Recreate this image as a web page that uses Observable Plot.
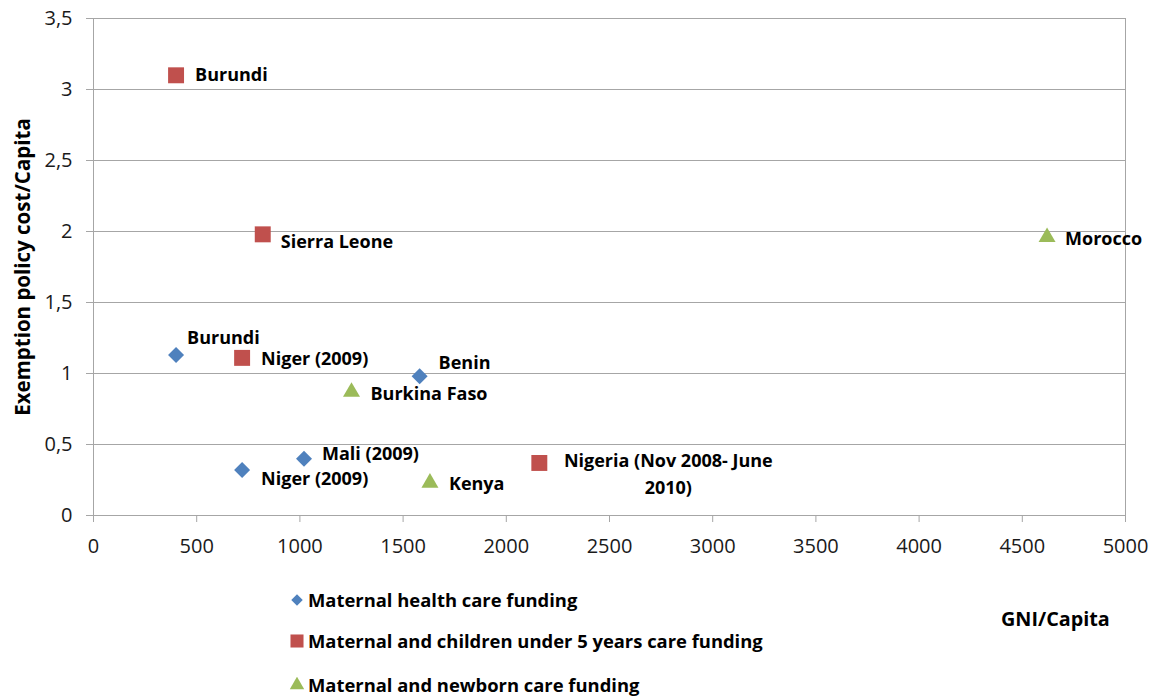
<!DOCTYPE html>
<html><head><meta charset="utf-8">
<script src="https://cdn.jsdelivr.net/npm/d3@7"></script>
<script src="https://cdn.jsdelivr.net/npm/@observablehq/plot@0.6"></script>
<style>
body{margin:0;background:#fff;font-family:"Open Sans",sans-serif;}
#wrap{position:relative;width:1155px;height:696px;overflow:hidden;background:#fff;}
#wrap svg.plot{position:absolute;left:0;top:0;}
.leg{position:absolute;left:289px;font-weight:bold;font-size:18.4px;color:#000;white-space:nowrap;line-height:20px;height:20px;display:flex;align-items:center;}
.leg svg{margin-right:3px;}
.xlab{position:absolute;left:1001px;top:606px;font-weight:bold;font-size:19.8px;line-height:26px;color:#000;}
</style></head><body><div id="wrap"></div><script>
// ---- data ----
const seriesNames = ["Maternal health care funding","Maternal and children under 5 years care funding","Maternal and newborn care funding"];
const seriesColors = ["#4F81BD","#C0504D","#9BBB59"];
const seriesSymbols = ["diamond2","square","triangle"];

const healthCountries = ["Burundi","Benin","Mali (2009)","Niger (2009)"];
const healthGNI = [400,1580,1020,720];
const healthCost = [1.13,0.98,0.40,0.32];

const under5Countries = ["Burundi","Sierra Leone","Niger (2009)","Nigeria (Nov 2008- June\n2010)"];
const under5GNI = [400,820,720,2160];
const under5Cost = [3.10,1.98,1.11,0.37];

const newbornCountries = ["Burkina Faso","Kenya","Morocco"];
const newbornGNI = [1250,1630,4620];
const newbornCost = [0.87,0.23,1.96];

const xTicks = [0,500,1000,1500,2000,2500,3000,3500,4000,4500,5000];
const yTicks = [0,0.5,1,1.5,2,2.5,3,3.5];
const xLabel = "GNI/Capita";
const yLabel = "Exemption policy cost/Capita";

// ---- layout (label offsets in px, marker radii) ----
const labelOffsets = [
  [[11,-20,"start"],[19,-16,"start"],[18,-7,"start"],[19,6,"start"]],
  [[19,-3,"start"],[18,5,"start"],[19,-2,"start"],[129,9,"middle"]],
  [[19,-1,"start"],[19,-1,"start"],[18,-1,"start"]]
];
const markerR = [7.2, 9.0, 6.3];

const seriesData = [
  healthCountries.map((c,i)=>({country:c, gni:healthGNI[i], cost:healthCost[i]})),
  under5Countries.map((c,i)=>({country:c, gni:under5GNI[i], cost:under5Cost[i]})),
  newbornCountries.map((c,i)=>({country:c, gni:newbornGNI[i], cost:newbornCost[i]}))
];

const fmtY = d => String(d).replace(".", ",");
const fmtX = d => String(d);
const gray = "#a6a6a6";
const font = "'Open Sans', sans-serif";

const marks = [
  Plot.gridY(yTicks, {stroke: gray, strokeOpacity: 1}),
  Plot.frame({stroke: gray, strokeOpacity: 1}),
  Plot.axisY(yTicks, {tickSize: 7, tickPadding: 14, tickFormat: fmtY, stroke: gray, fontSize: 20, fill: "#1a1a1a", label: null}),
  Plot.axisX(xTicks, {tickSize: 7, tickPadding: 16, tickFormat: fmtX, stroke: gray, fontSize: 20, fill: "#1a1a1a", label: null}),
  Plot.text([yLabel], {frameAnchor: "left", textAnchor: "middle", rotate: -90, dx: -70, fontWeight: "bold", fontSize: 20.5, fill: "#000"})
];
seriesData.forEach((rows, s) => {
  marks.push(Plot.dot(rows, {x: "gni", y: "cost", symbol: seriesSymbols[s], fill: seriesColors[s], r: markerR[s], stroke: "none"}));
  rows.forEach((d, i) => {
    const [dx, dy, anchor] = labelOffsets[s][i];
    marks.push(Plot.text([d], {x: "gni", y: "cost", text: "country", dx, dy, textAnchor: anchor, lineHeight: 1.5, fontWeight: "bold", fontSize: 18, fill: "#000"}));
  });
});

const chart = Plot.plot({
  width: 1155,
  height: 565,
  marginLeft: 93,
  marginRight: 30,
  marginTop: 18,
  marginBottom: 50,
  style: {fontFamily: font, background: "#fff", color: "#000"},
  x: {domain: [0, 5000]},
  y: {domain: [0, 3.5]},
  marks
});
chart.classList.add("plot");
const wrap = document.getElementById("wrap");
wrap.appendChild(chart);

// ---- legend below ----
const legTops = [590, 631, 675];
const legSizes = [85, 170, 90];
const symMap = {diamond2: d3.symbolDiamond2, square: d3.symbolSquare, triangle: d3.symbolTriangle};
seriesNames.forEach((name, s) => {
  const div = document.createElement("div");
  div.className = "leg";
  div.style.top = legTops[s] + "px";
  const path = d3.symbol(symMap[seriesSymbols[s]], legSizes[s])();
  div.innerHTML = `<svg width="16" height="16" viewBox="-8 -8 16 16"><path d="${path}" fill="${seriesColors[s]}"/></svg><span>${name}</span>`;
  wrap.appendChild(div);
});
const xl = document.createElement("div");
xl.className = "xlab";
xl.textContent = xLabel;
wrap.appendChild(xl);
</script></body></html>
